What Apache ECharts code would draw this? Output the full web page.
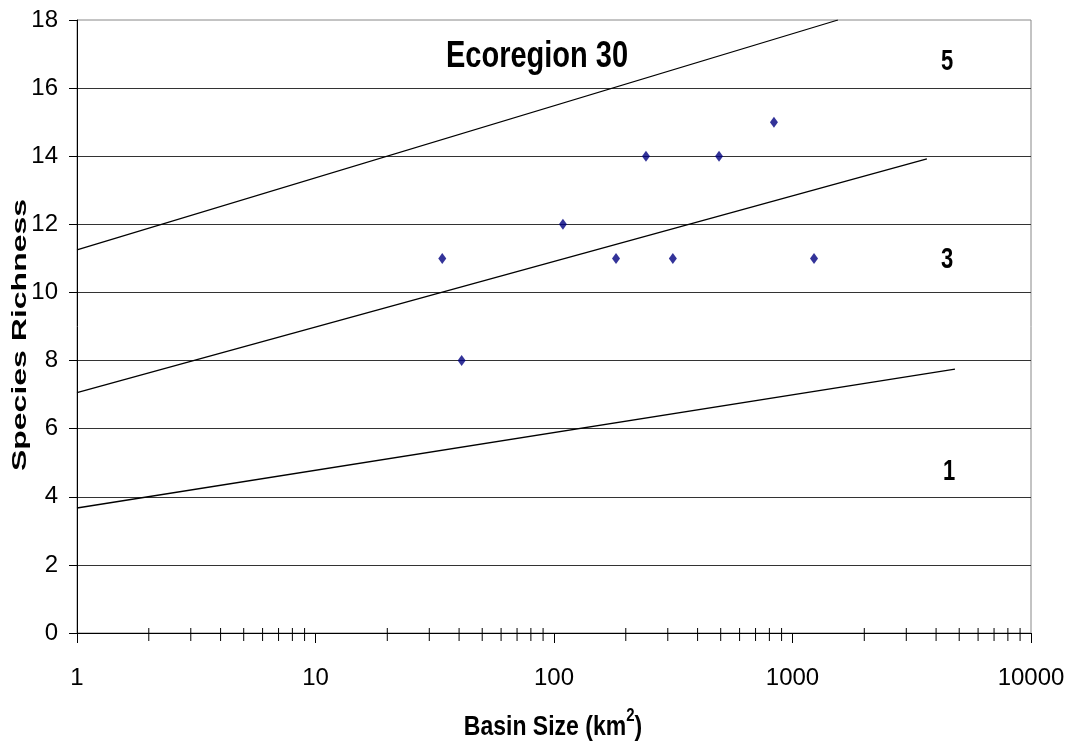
<!DOCTYPE html>
<html>
<head>
<meta charset="utf-8">
<title>Ecoregion 30</title>
<script src="https://cdn.jsdelivr.net/npm/echarts@6.0.0/dist/echarts.min.js"></script>
<style>
	html, body {margin: 0; padding: 0; background: #fff;}
	#chart {width: 1071px; height: 744px;}
</style>
</head>
<body>
<div id="chart"></div>
<script>

// basin size (km2) and species richness of the sampled sites
var basinSize = [34, 41, 109, 182, 243, 315, 492, 836, 1231];
var richness = [11, 8, 12, 11, 14, 11, 14, 15, 11];

// the three class lines (5, 3, 1)
var line5X = [1, 1550];
var line5Y = [11.25, 18];
var line3X = [1, 3660];
var line3Y = [7.06, 13.92];
var line1X = [1, 4800];
var line1Y = [3.67, 7.75];

// log axis minor ticks
var minorTicks = [2, 3, 4, 5, 6, 7, 8, 9,
	20, 30, 40, 50, 60, 70, 80, 90,
	200, 300, 400, 500, 600, 700, 800, 900,
	2000, 3000, 4000, 5000, 6000, 7000, 8000, 9000];

var yTicks = [0, 2, 4, 6, 8, 10, 12, 14, 16, 18];

function pairs(xs, ys) {
	var out = [];
	for (var i = 0; i < xs.length; i++) {
		out.push([xs[i], ys[i]]);
	}
	return out;
}

var chart = echarts.init(document.getElementById('chart'));
var font = 'Liberation Sans, Arial, sans-serif';

function label(txt, x, y, size, sy) {
	return {
		type: 'text',
		x: x,
		y: y,
		scaleY: sy,
		style: {
			text: txt,
			x: 0,
			y: 0,
			fill: '#000',
			font: 'bold ' + size + 'px ' + font,
			textAlign: 'center',
			textVerticalAlign: 'middle'
		}
	};
}

var option = {
	animation: false,
	backgroundColor: '#fff',
	grid: {
		left: 77,
		right: 40,
		top: 20,
		bottom: 111,
		show: true,
		borderColor: '#888',
		borderWidth: 1
	},
	xAxis: {
		type: 'log',
		logBase: 10,
		min: 1,
		max: 10000,
		splitNumber: 4,
		axisLine: {show: true, lineStyle: {color: '#000', width: 1}},
		axisTick: {show: true, length: 10, lineStyle: {color: '#000'}},
		splitLine: {show: false},
		axisLabel: {
			color: '#000',
			fontFamily: font,
			fontSize: 24,
			margin: 33,
			formatter: function (v) { return String(v); }
		}
	},
	yAxis: {
		type: 'value',
		min: yTicks[0],
		max: yTicks[yTicks.length - 1],
		interval: 2,
		axisLine: {show: true, lineStyle: {color: '#000', width: 1}},
		axisTick: {show: true, length: 8, lineStyle: {color: '#000'}},
		splitLine: {show: true, showMaxLine: false, showMinLine: false, lineStyle: {color: '#333', width: 1}},
		axisLabel: {color: '#000', fontFamily: font, fontSize: 24, margin: 19}
	},
	series: [
		{
			name: '5',
			type: 'line',
			data: pairs(line5X, line5Y),
			symbol: 'none',
			lineStyle: {color: '#000', width: 1.3},
			silent: true
		},
		{
			name: '3',
			type: 'line',
			data: pairs(line3X, line3Y),
			symbol: 'none',
			lineStyle: {color: '#000', width: 1.3},
			silent: true
		},
		{
			name: '1',
			type: 'line',
			data: pairs(line1X, line1Y),
			symbol: 'none',
			lineStyle: {color: '#000', width: 1.3},
			silent: true
		},
		{
			name: 'sites',
			type: 'scatter',
			data: pairs(basinSize, richness),
			symbol: 'diamond',
			symbolSize: [8, 11],
			itemStyle: {color: '#000080'},
			z: 5
		},
		{
			name: 'minor',
			type: 'custom',
			silent: true,
			clip: false,
			z: 6,
			data: minorTicks.map(function (v) { return [v, 0]; }),
			encode: {x: 0, y: 1},
			renderItem: function (params, api) {
				var p = api.coord([api.value(0), 0]);
				return {
					type: 'line',
					shape: {x1: p[0], y1: p[1] - 5, x2: p[0], y2: p[1] + 8},
					style: {stroke: '#000', lineWidth: 1}
				};
			}
		}
	],
	graphic: [
		label('Ecoregion 30', 537, 57, 29, 1.25),
		label('5', 947, 62, 22, 1.35),
		label('3', 947, 260, 22, 1.35),
		label('1', 949, 472, 22, 1.35),
		{
			type: 'text',
			x: 553,
			y: 724,
			scaleY: 1.2,
			style: {
				text: '{a|Basin Size (km}{s|2}{a|)}',
				x: 0,
				y: 0,
				fill: '#000',
				textAlign: 'center',
				textVerticalAlign: 'middle',
				rich: {
					a: {fontFamily: font, fontWeight: 'bold', fontSize: 23, lineHeight: 28, verticalAlign: 'bottom'},
					s: {fontFamily: font, fontWeight: 'bold', fontSize: 15, lineHeight: 28, verticalAlign: 'top'}
				}
			}
		},
		{
			type: 'text',
			x: 20,
			y: 335,
			rotation: Math.PI / 2,
			scaleX: 1.6,
			style: {
				text: 'Species Richness',
				x: 0,
				y: 0,
				fill: '#000',
				font: 'bold 20px ' + font,
				textAlign: 'center',
				textVerticalAlign: 'middle'
			}
		}
	]
};

chart.setOption(option);

</script>
</body>
</html>
